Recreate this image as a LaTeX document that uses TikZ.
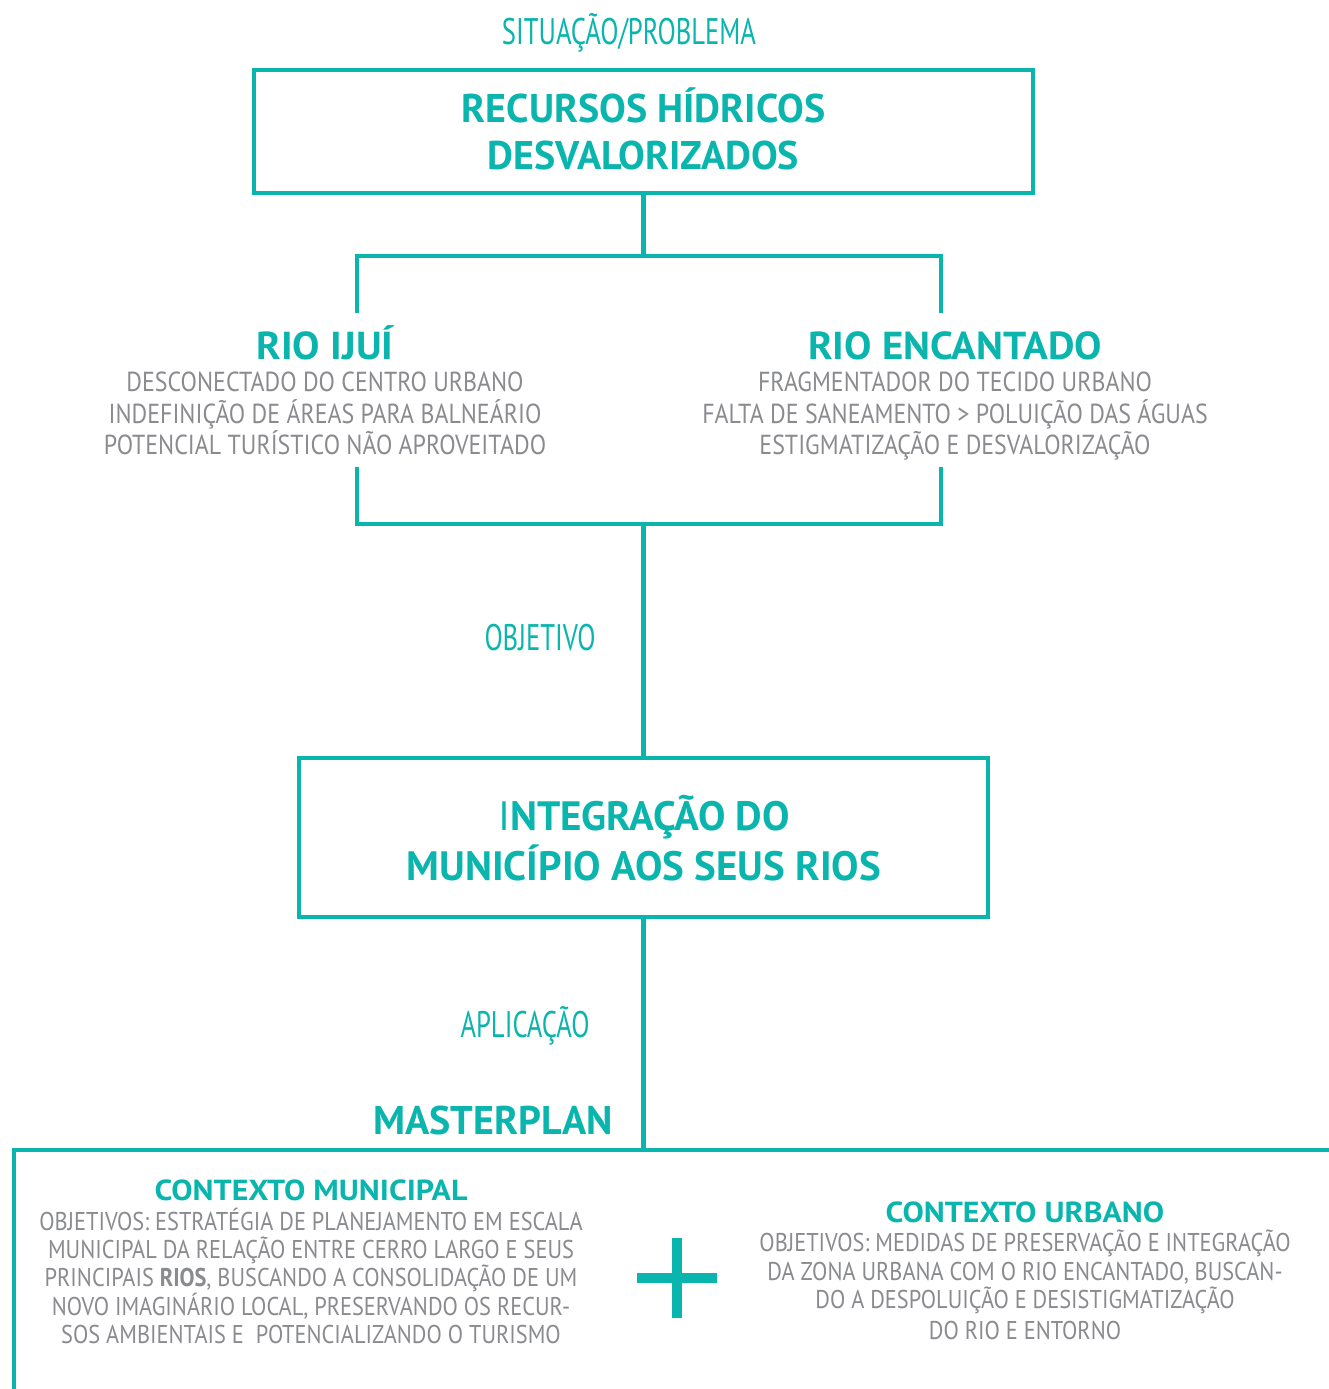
\documentclass[tikz,border=0pt]{standalone}
\usepackage{fontspec}
\setmainfont{PT Sans}
\newfontfamily\condfont[FakeStretch=0.72]{PT Sans}
\newfontfamily\boldfont{PT Sans Bold}
\newfontfamily\headfont[FakeStretch=1.05]{PT Sans Bold}
\newfontfamily\wideboldfont[FakeStretch=1.1]{PT Sans Bold}
\newfontfamily\grayfont[FakeStretch=0.87]{PT Sans}
\newfontfamily\grayboldfont[FakeStretch=0.87]{PT Sans Bold}
\definecolor{teal1}{RGB}{10,181,174}
\definecolor{gray1}{RGB}{138,139,143}
\tikzset{
  tline/.style={draw=teal1, line width=4.5pt},
  tbox/.style={tline, inner sep=0pt},
  bigtxt/.style={text=teal1, anchor=base, inner sep=0pt, font=\boldfont\fontsize{40}{40}\selectfont},
  integtxt/.style={text=teal1, anchor=base, inner sep=0pt, font=\boldfont\fontsize{41}{41}\selectfont},
  lbl/.style={text=teal1, anchor=base, inner sep=0pt, font=\condfont\fontsize{37}{37}\selectfont},
  head/.style={text=teal1, anchor=base, inner sep=0pt, font=\headfont\fontsize{39}{39}\selectfont},
  mphead/.style={text=teal1, anchor=base, inner sep=0pt, font=\boldfont\fontsize{40}{40}\selectfont},
  gtxt/.style={text=gray1, anchor=base, inner sep=0pt, font=\grayfont\fontsize{27.5}{27.5}\selectfont},
  shead/.style={text=teal1, anchor=base, inner sep=0pt, font=\wideboldfont\fontsize{29}{29}\selectfont},
  stxt/.style={text=gray1, anchor=base, inner sep=0pt, font=\grayfont\fontsize{25.7}{25.7}\selectfont},
}
\begin{document}
\begin{tikzpicture}[x=1pt,y=-1pt]
\useasboundingbox (0,0) rectangle (1328,1389);
\fill[white] (0,0) rectangle (1328,1389);
% top label
\node[lbl] (sit) at (629,45) {SITUAÇÃO/PROBLEMA};
% top box
\node[tbox, minimum width=779pt, minimum height=123pt] (rec) at (643.5,131.5) {};
\node[bigtxt] (rec1) at (643.5,122) {RECURSOS HÍDRICOS};
\node[bigtxt] (rec2) at (643.5,169) {DESVALORIZADOS};
% upper bracket
\coordinate (j1) at (643.5,256);
\coordinate (l1) at (357,256);
\coordinate (r1) at (941,256);
\coordinate (l1e) at (357,313);
\coordinate (r1e) at (941,313);
\draw[tline] (rec.south) -- (j1);
\draw[tline] (l1e) -- (l1) -- (r1) -- (r1e);
% rivers
\node[head] (ijui) at (325,359) {RIO IJUÍ};
\node[gtxt] (ij1) at (325,391) {DESCONECTADO DO CENTRO URBANO};
\node[gtxt] (ij2) at (325,423) {INDEFINIÇÃO DE ÁREAS PARA BALNEÁRIO};
\node[gtxt] (ij3) at (325,454) {POTENCIAL TURÍSTICO NÃO APROVEITADO};
\node[head] (enc) at (955,359) {RIO ENCANTADO};
\node[gtxt] (en1) at (955,391) {FRAGMENTADOR DO TECIDO URBANO};
\node[gtxt] (en2) at (955,423) {FALTA DE SANEAMENTO > POLUIÇÃO DAS ÁGUAS};
\node[gtxt] (en3) at (955,454) {ESTIGMATIZAÇÃO E DESVALORIZAÇÃO};
% lower bracket
\coordinate (l2s) at (357,467);
\coordinate (l2) at (357,524);
\coordinate (r2) at (941,524);
\coordinate (r2s) at (941,467);
\coordinate (j2) at (643.5,524);
\draw[tline] (l2s) -- (l2) -- (r2) -- (r2s);
% objective
\node[lbl] (obj) at (540,650) {OBJETIVO};
\node[tbox, minimum width=689pt, minimum height=159pt] (integ) at (643.5,837.5) {};
\draw[tline] (j2) -- (integ.north);
\node[integtxt] (int1) at (644,830) {{\fontspec{PT Sans}I}NTEGRAÇÃO DO};
\node[integtxt] (int2) at (644,880) {MUNICÍPIO AOS SEUS RIOS};
% application
\coordinate (j3) at (643.5,1150);
\draw[tline] (integ.south) -- (j3);
\node[lbl] (apl) at (525,1037) {APLICAÇÃO};
\node[mphead] (mp) at (493,1134) {MASTERPLAN};
% masterplan frame
\coordinate (fr) at (1335,1150);
\coordinate (fl) at (14,1150);
\coordinate (fb) at (14,1395);
\draw[tline] (fr) -- (fl) -- (fb);
% municipal context
\node[shead] (cm) at (311,1200) {CONTEXTO MUNICIPAL};
\node[stxt] (cm1) at (311,1230) {OBJETIVOS: ESTRATÉGIA DE PLANEJAMENTO EM ESCALA};
\node[stxt] (cm2) at (311,1258.3) {MUNICIPAL DA RELAÇÃO ENTRE CERRO LARGO E SEUS};
\node[stxt] (cm3) at (311,1286.6) {PRINCIPAIS {\grayboldfont RIOS}, BUSCANDO A CONSOLIDAÇÃO DE UM};
\node[stxt] (cm4) at (311,1315) {NOVO IMAGINÁRIO LOCAL, PRESERVANDO OS RECUR-};
\node[stxt] (cm5) at (311,1343) {SOS AMBIENTAIS E\ \ POTENCIALIZANDO O TURISMO};
% plus
\node[fill=teal1, minimum width=80pt, minimum height=10pt, inner sep=0pt] (plush) at (677,1278) {};
\node[fill=teal1, minimum width=10pt, minimum height=80pt, inner sep=0pt] (plusv) at (677,1278) {};
% urban context
\node[shead] (cu) at (1025,1222) {CONTEXTO URBANO};
\node[stxt] (cu1) at (1025,1251) {OBJETIVOS: MEDIDAS DE PRESERVAÇÃO E INTEGRAÇÃO};
\node[stxt] (cu2) at (1025,1280) {DA ZONA URBANA COM O RIO ENCANTADO, BUSCAN-};
\node[stxt] (cu3) at (1025,1308) {DO A DESPOLUIÇÃO E DESISTIGMATIZAÇÃO};
\node[stxt] (cu4) at (1025,1339) {DO RIO E ENTORNO};
\end{tikzpicture}
\end{document}
